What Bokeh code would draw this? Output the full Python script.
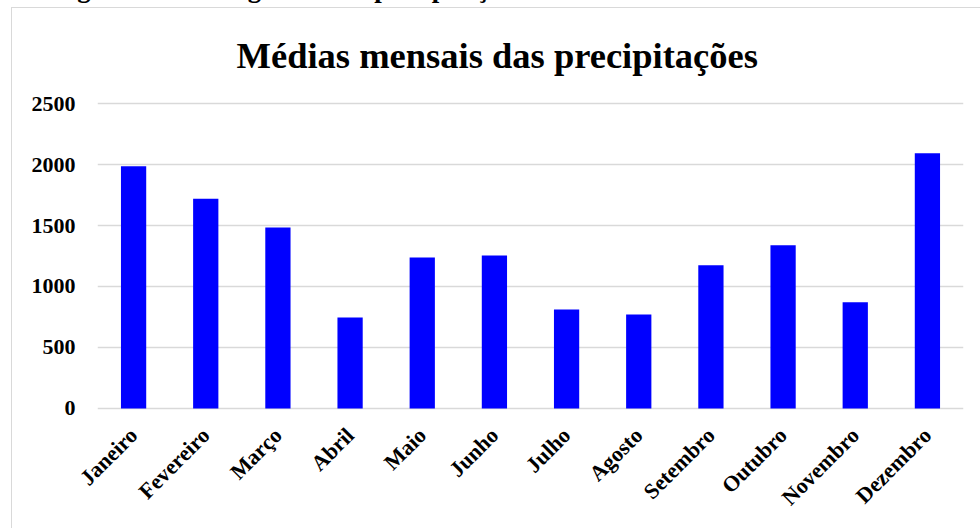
import math
from bokeh.plotting import figure
from bokeh.models import Range1d, FixedTicker, Title, InlineStyleSheet
from bokeh.embed import file_html
from bokeh.resources import INLINE

months = ["Janeiro", "Fevereiro", "Março", "Abril", "Maio", "Junho",
          "Julho", "Agosto", "Setembro", "Outubro", "Novembro", "Dezembro"]
values = [1986, 1719, 1484, 746, 1238, 1254, 811, 770, 1175, 1338, 871, 2093]
y_ticks = [0, 500, 1000, 1500, 2000, 2500]
title_text = "Médias mensais das precipitações"
caption_text = "Figura 1: – Histograma das precipitações médias mensais totais de 2013 a 2022"

FONT = "Liberation Serif"
K = 35  # pixels of canvas hidden above the page top

p = figure(x_range=months, y_range=Range1d(-16.4, 2516.4),
           width=980, height=528 + K, output_backend="svg", toolbar_location=None,
           min_border_left=97, min_border_right=17, min_border_top=101 + K,
           min_border_bottom=118)
p.styles = {"margin-top": f"-{K}px"}
p.stylesheets = [InlineStyleSheet(css=(
    ":host::after { content: ''; position: absolute; left: 11px; top: %dpx; "
    "right: 0px; bottom: 0px; border-left: 1.5px solid #d9d9d9; "
    "border-top: 1.5px solid #d9d9d9; pointer-events: none; }" % (K + 7)))]
p.outline_line_color = None
p.background_fill_color = "white"
p.border_fill_color = "white"

p.vbar(x=months, top=values, width=0.35, fill_color="#0000ff", line_color=None)

p.xgrid.grid_line_color = None
p.ygrid.grid_line_color = "#d9d9d9"
p.ygrid.grid_line_width = 1.5
p.yaxis.ticker = FixedTicker(ticks=y_ticks)

for ax in (p.xaxis[0], p.yaxis[0]):
    ax.axis_line_color = None
    ax.major_tick_line_color = None
    ax.minor_tick_line_color = None
    ax.major_tick_out = 0
    ax.major_tick_in = 0
    ax.major_label_text_font = FONT
    ax.major_label_text_font_style = "bold"
    ax.major_label_text_font_size = "22px"
    ax.major_label_text_color = "black"

p.yaxis.major_label_standoff = 22
p.xaxis.major_label_standoff = 21
p.xaxis.major_label_orientation = math.pi / 4

# outermost (top, partly hidden above the page): the figure caption
p.title.text = caption_text
p.title.text_font = FONT
p.title.text_font_style = "bold"
p.title.text_font_size = "26.8px"
p.title.text_color = "black"
p.title.align = "left"
p.title.offset = -44
p.title.standoff = 9

# nearest the plot: the chart title
p.add_layout(Title(text=title_text, text_font=FONT, text_font_style="bold",
                   text_font_size="36.5px", text_color="black", align="left",
                   offset=139, standoff=51), "above")

open("out.html", "w").write(file_html(p, INLINE))
